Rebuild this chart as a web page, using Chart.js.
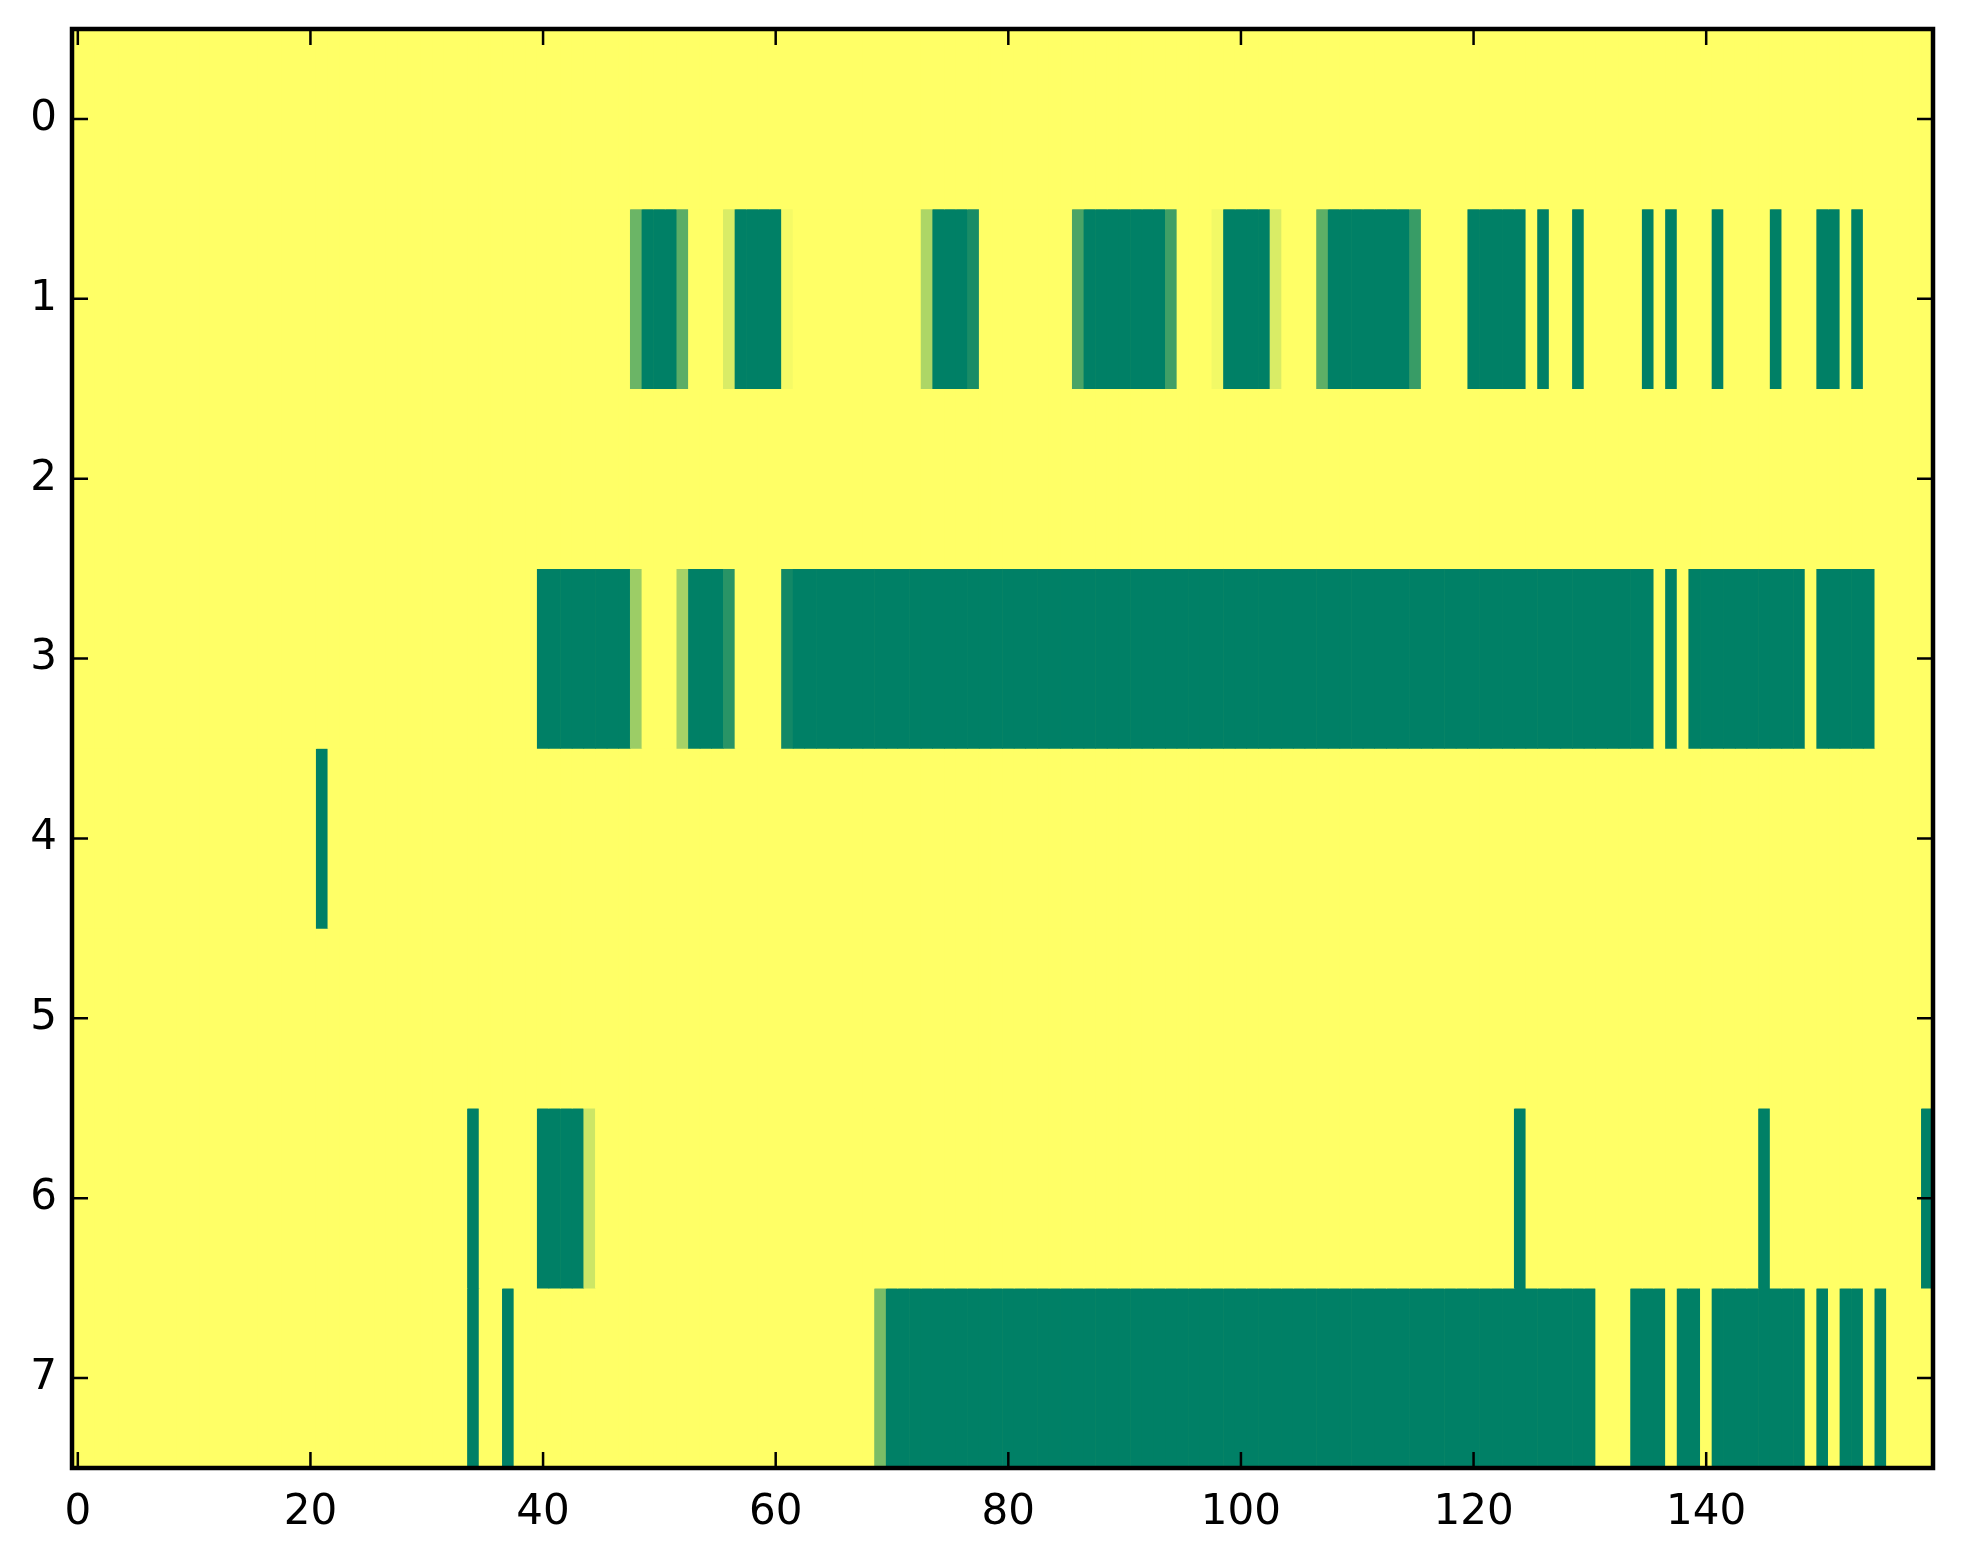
<!DOCTYPE html>
<html>
<head>
<meta charset="utf-8">
<script src="https://cdn.jsdelivr.net/npm/chart.js@4.4.1/dist/chart.umd.min.js"></script>
<style>
  html, body { margin: 0; padding: 0; background: #fff; }
  #wrap { width: 1963px; height: 1564px; }
</style>
</head>
<body>
<div id="wrap"><canvas id="heatChart"></canvas></div>
<script>
// grid size and tick labels
const nCols = 160;
const rowLabels = [0, 1, 2, 3, 4, 5, 6, 7];
const xTickLabels = [0, 20, 40, 60, 80, 100, 120, 140];

// cell values per row, as runs [firstCol, lastCol, value]; cells not listed are 0
const row0 = [];
const row1 = [
    [48, 48, 0.58], [49, 51, 1], [52, 52, 0.64], [56, 56, 0.15], [57, 60, 1], [61, 61, 0.04],
    [73, 73, 0.32], [74, 76, 1], [77, 77, 0.9], [86, 86, 0.71], [87, 93, 1], [94, 94, 0.75],
    [98, 98, 0.05], [99, 102, 1], [103, 103, 0.15], [107, 107, 0.63], [108, 114, 1], [115, 115, 0.78],
    [120, 124, 1], [126, 126, 1], [129, 129, 1], [135, 135, 1], [137, 137, 1], [141, 141, 1],
    [146, 146, 1], [150, 151, 1], [153, 153, 1]
];
const row2 = [];
const row3 = [
    [40, 47, 1], [48, 48, 0.39], [52, 52, 0.35], [53, 55, 1], [56, 56, 0.84], [61, 61, 0.93],
    [62, 135, 1], [137, 137, 1], [139, 148, 1], [150, 154, 1]
];
const row4 = [[21, 21, 1]];
const row5 = [];
const row6 = [
    [34, 34, 1], [40, 43, 1], [44, 44, 0.2], [124, 124, 1], [145, 145, 1], [159, 159, 1]
];
const row7 = [
    [34, 34, 1], [37, 37, 1], [69, 69, 0.52], [70, 130, 1], [134, 136, 1], [138, 139, 1],
    [141, 148, 1], [150, 150, 1], [152, 153, 1], [155, 155, 1]
];
const rows = [row0, row1, row2, row3, row4, row5, row6, row7];

// reversed "summer" colour map: 0 -> yellow, 1 -> green
function summerR(val) {
    const v = 1 - val;
    return 'rgb(' + Math.round(255 * v) + ',' + Math.round(255 * (0.5 + 0.5 * v)) + ',102)';
}

function cellValue(runs, c) {
    for (const r of runs) {
        if (c >= r[0] && c <= r[1]) return r[2];
    }
    return 0;
}

const datasets = rows.map(function (runs, r) {
    const data = [];
    const colors = [];
    for (let c = 0; c < nCols; c++) {
        const v = cellValue(runs, c);
        data.push({ x: c, y: [r - 0.5, r + 0.5] });
        colors.push(summerR(v));
    }
    return {
        data: data,
        backgroundColor: colors,
        borderWidth: 0,
        grouped: false,
        barPercentage: 1,
        categoryPercentage: 1
    };
});

const tickFont = { family: 'DejaVu Sans', size: 42 };

// frame with inward ticks on all four sides, like the original
const framePlugin = {
    id: 'frame',
    beforeDraw(chart) {
        const c = chart.ctx;
        c.save();
        c.fillStyle = '#fff';
        c.fillRect(0, 0, chart.width, chart.height);
        const a = chart.chartArea;
        c.fillStyle = summerR(0);
        c.fillRect(a.left, a.top, a.right - a.left, a.bottom - a.top);
        c.restore();
    },
    afterDraw(chart) {
        const c = chart.ctx;
        const a = chart.chartArea;
        const xs = chart.scales.x, ys = chart.scales.y;
        const len = 16;
        c.save();
        c.strokeStyle = '#000';
        c.lineWidth = 2.5;
        c.beginPath();
        xTickLabels.forEach(function (v) {
            const px = xs.getPixelForValue(v);
            c.moveTo(px, a.bottom); c.lineTo(px, a.bottom - len);
            c.moveTo(px, a.top); c.lineTo(px, a.top + len);
        });
        rowLabels.forEach(function (v) {
            const py = ys.getPixelForValue(v);
            c.moveTo(a.left, py); c.lineTo(a.left + len, py);
            c.moveTo(a.right, py); c.lineTo(a.right - len, py);
        });
        c.stroke();
        c.lineWidth = 4.5;
        c.strokeRect(a.left, a.top, a.right - a.left, a.bottom - a.top);
        c.restore();
    }
};

new Chart(document.getElementById('heatChart').getContext('2d'), {
    type: 'bar',
    data: { datasets: datasets },
    options: {
        responsive: true,
        maintainAspectRatio: false,
        devicePixelRatio: 1,
        animation: false,
        layout: { padding: { top: 29, right: 30, left: 0, bottom: 0 } },
        plugins: { legend: { display: false }, tooltip: { enabled: false } },
        scales: {
            x: {
                type: 'linear',
                min: -0.5,
                max: nCols - 0.5,
                offset: false,
                afterBuildTicks: function (s) { s.ticks = xTickLabels.map(v => ({ value: v })); },
                afterFit: function (s) { s.height = 96; s.paddingLeft = 0; s.paddingRight = 0; },
                grid: { display: false, drawTicks: false },
                border: { display: false },
                ticks: { font: tickFont, color: '#000', padding: 20, maxRotation: 0, autoSkip: false }
            },
            y: {
                type: 'linear',
                reverse: true,
                min: -0.5,
                max: rowLabels.length - 0.5,
                afterBuildTicks: function (s) { s.ticks = rowLabels.map(v => ({ value: v })); },
                afterFit: function (s) { s.width = 72; s.paddingTop = 0; s.paddingBottom = 0; },
                grid: { display: false, drawTicks: false },
                border: { display: false },
                ticks: { font: tickFont, color: '#000', padding: 15, autoSkip: false }
            }
        }
    },
    plugins: [framePlugin]
});
</script>
</body>
</html>
